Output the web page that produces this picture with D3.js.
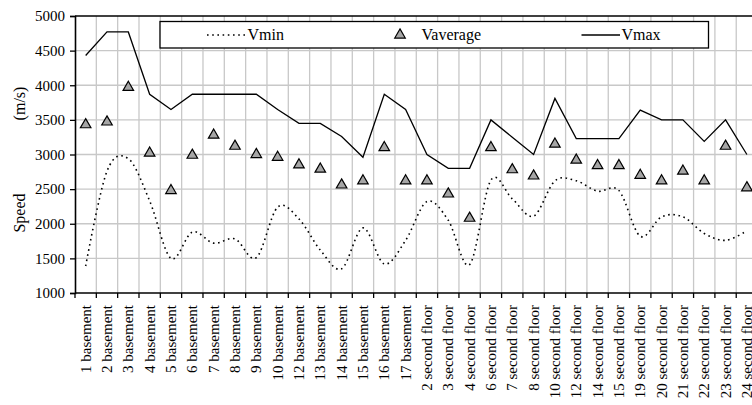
<!DOCTYPE html>
<html>
<head>
<meta charset="utf-8">
<script src="https://cdn.jsdelivr.net/npm/d3@7"></script>
<style>
  body { margin: 0; background: #fff; }
  svg { display: block; }
</style>
</head>
<body>
<div id="chart"></div>
<script>
const categories = [
    "1 basement", "2 basement", "3 basement", "4 basement", "5 basement", "6 basement",
    "7 basement", "8 basement", "9 basement", "10 basement", "12 basement", "13 basement",
    "14 basement", "15 basement", "16 basement", "17 basement",
    "2 second floor", "3 second floor", "4 second floor", "6 second floor", "7 second floor",
    "8 second floor", "10 second floor", "12 second floor", "14 second floor", "15 second floor",
    "19 second floor", "20 second floor", "21 second floor", "22 second floor", "23 second floor",
    "24 second floor"
];
const vmin = [1390, 2760, 2940, 2330, 1500, 1880, 1720, 1780, 1510, 2240, 2070, 1620, 1350, 1940, 1420, 1760,
              2320, 2050, 1410, 2630, 2360, 2110, 2620, 2620, 2470, 2480, 1820, 2100, 2100, 1860, 1760, 1900];
const vaverage = [3430, 3470, 3970, 3020, 2480, 2990, 3280, 3120, 3000, 2960, 2850, 2790, 2560, 2620, 3100, 2620,
                  2620, 2430, 2080, 3100, 2780, 2690, 3150, 2920, 2840, 2840, 2700, 2620, 2760, 2620, 3120, 2520];
const vmax = [4430, 4770, 4770, 3870, 3650, 3870, 3870, 3870, 3870, 3650, 3450, 3450, 3260, 2960, 3870, 3650,
              3000, 2800, 2800, 3500, 3250, 3000, 3810, 3230, 3230, 3230, 3640, 3500, 3500, 3190, 3500, 3000];
const yTicks = [1000, 1500, 2000, 2500, 3000, 3500, 4000, 4500, 5000];

const FONT = "Liberation Serif";
const width = 752, height = 405;
const plotLeft = 75, plotTop = 16, plotBottom = 293;
const step = 21.33;
const plotRight = plotLeft + step * categories.length;

const svg = d3.select("#chart").append("svg")
    .attr("width", width)
    .attr("height", height)
    .attr("font-family", FONT);

const x = d3.scaleBand().domain(categories).range([plotLeft, plotRight]).paddingInner(0).paddingOuter(0);
const y = d3.scaleLinear().domain([1000, 5000]).range([plotBottom, plotTop]);
const cx = d => x(d) + x.bandwidth() / 2;

// grid
const boundaries = d3.range(categories.length + 1).map(i => plotLeft + i * x.step());
svg.append("g").selectAll("line").data(boundaries.slice(1)).join("line")
    .attr("x1", d => d).attr("x2", d => d)
    .attr("y1", plotTop).attr("y2", plotBottom)
    .attr("stroke", "#c8c8c8").attr("stroke-width", 1.3);
svg.append("g").selectAll("line").data(yTicks.slice(1, -1)).join("line")
    .attr("x1", plotLeft).attr("x2", plotRight)
    .attr("y1", d => y(d)).attr("y2", d => y(d))
    .attr("stroke", "#c8c8c8").attr("stroke-width", 1.3);

// top border
svg.append("line")
    .attr("x1", plotLeft).attr("x2", plotRight)
    .attr("y1", y(5000)).attr("y2", y(5000))
    .attr("stroke", "#000").attr("stroke-width", 1.3);

// y axis
const yAxis = svg.append("g")
    .attr("transform", `translate(${plotLeft},0)`)
    .call(d3.axisLeft(y).tickValues(yTicks).tickSize(5).tickPadding(5).tickFormat(d3.format("d")))
    .attr("font-family", FONT).attr("font-size", 15);
yAxis.select(".domain").attr("stroke", "#000").attr("stroke-width", 1.6);
yAxis.selectAll(".tick line").attr("stroke", "#000").attr("stroke-width", 1.3);
yAxis.selectAll("text").attr("font-family", FONT).attr("fill", "#000");

// x axis
const xAxis = svg.append("g")
    .attr("transform", `translate(0,${plotBottom})`)
    .call(d3.axisBottom(x).tickSize(0).tickPadding(0))
    .attr("font-family", FONT).attr("font-size", 15);
xAxis.select(".domain").remove();
xAxis.selectAll("text")
    .attr("font-family", FONT).attr("fill", "#000")
    .attr("text-anchor", "end")
    .attr("transform", "translate(0,12) rotate(-90)")
    .attr("x", 0).attr("y", 0).attr("dy", "0.33em");
svg.append("line")
    .attr("x1", plotLeft).attr("x2", plotRight)
    .attr("y1", plotBottom).attr("y2", plotBottom)
    .attr("stroke", "#000").attr("stroke-width", 1.6);
svg.append("g").selectAll("line").data(boundaries).join("line")
    .attr("x1", d => d).attr("x2", d => d)
    .attr("y1", plotBottom).attr("y2", plotBottom + 5)
    .attr("stroke", "#000").attr("stroke-width", 1.3);

// y title
svg.append("text")
    .attr("transform", "translate(19,213) rotate(-90)")
    .attr("text-anchor", "middle").attr("dy", "0.35em")
    .attr("font-family", FONT).attr("font-size", 16).text("Speed");
svg.append("text")
    .attr("transform", "translate(19,103.5) rotate(-90)")
    .attr("text-anchor", "middle").attr("dy", "0.35em")
    .attr("font-family", FONT).attr("font-size", 16).text("(m/s)");

// Vmax line
svg.append("path")
    .datum(vmax)
    .attr("fill", "none").attr("stroke", "#000").attr("stroke-width", 1.3)
    .attr("d", d3.line().x((d, i) => cx(categories[i])).y(d => y(d)));

// Vmin smoothed dotted line
svg.append("path")
    .datum(vmin)
    .attr("fill", "none").attr("stroke", "#000").attr("stroke-width", 1.6)
    .attr("stroke-dasharray", "1.6,3.6")
    .attr("d", d3.line().curve(d3.curveCardinal.tension(0))
        .x((d, i) => cx(categories[i])).y(d => y(d)));

// Vaverage triangles
const tri = d3.symbol().type(d3.symbolTriangle).size(48);
svg.append("g").selectAll("path").data(vaverage).join("path")
    .attr("d", tri)
    .attr("transform", (d, i) => `translate(${cx(categories[i])},${y(d)})`)
    .attr("fill", "#a6a6a6").attr("stroke", "#000").attr("stroke-width", 1.2);

// legend
const lg = svg.append("g");
lg.append("rect")
    .attr("x", 160).attr("y", 21.5).attr("width", 548.5).attr("height", 26.5)
    .attr("fill", "#fff").attr("stroke", "#000").attr("stroke-width", 1.3);
const ly = 35;
lg.append("line")
    .attr("x1", 207).attr("x2", 245).attr("y1", ly).attr("y2", ly)
    .attr("stroke", "#000").attr("stroke-width", 1.6).attr("stroke-dasharray", "1.6,3.6");
lg.append("text").attr("x", 247.5).attr("y", ly).attr("dy", "0.33em")
    .attr("font-family", FONT).attr("font-size", 16).text("Vmin");
lg.append("path").attr("d", tri)
    .attr("transform", `translate(400,${ly})`)
    .attr("fill", "#a6a6a6").attr("stroke", "#000").attr("stroke-width", 1.2);
lg.append("text").attr("x", 421.5).attr("y", ly).attr("dy", "0.33em")
    .attr("font-family", FONT).attr("font-size", 16).text("Vaverage");
lg.append("line")
    .attr("x1", 581.5).attr("x2", 620).attr("y1", ly).attr("y2", ly)
    .attr("stroke", "#000").attr("stroke-width", 1.3);
lg.append("text").attr("x", 621.5).attr("y", ly).attr("dy", "0.33em")
    .attr("font-family", FONT).attr("font-size", 16).text("Vmax");
</script>
</body>
</html>
